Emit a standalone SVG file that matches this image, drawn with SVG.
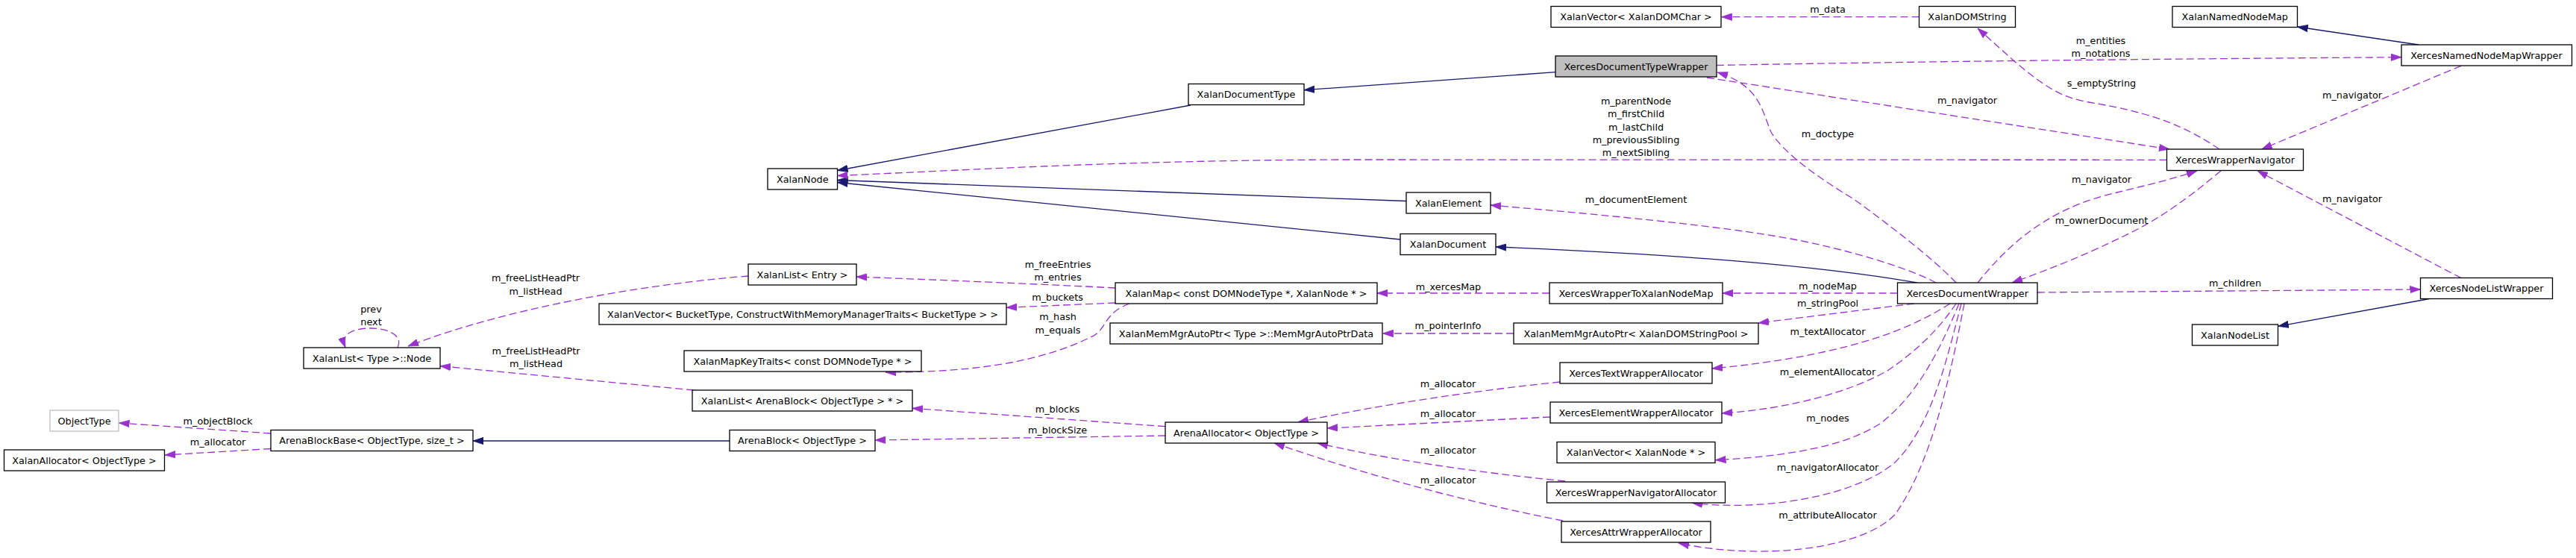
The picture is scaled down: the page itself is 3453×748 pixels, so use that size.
<svg xmlns="http://www.w3.org/2000/svg" width="3453" height="748" viewBox="0 0 3453 748">
<style>
.box{fill:#ffffff;stroke:#000000;stroke-width:1.3}
.boxg{fill:#ffffff;stroke:#bfbfbf;stroke-width:1.3}
.boxsel{fill:#bfbfbf;stroke:#000000;stroke-width:1.3}
text{font-family:"DejaVu Sans","Liberation Sans",sans-serif;font-size:12.8px;fill:#000000;text-anchor:middle}
.inh{fill:none;stroke:#191970;stroke-width:1.3}
.use{fill:none;stroke:#9a32cd;stroke-width:1.3;stroke-dasharray:10,5}
</style>
<defs>
<marker id="an" markerUnits="userSpaceOnUse" viewBox="0 0 14 10" markerWidth="14" markerHeight="10" refX="14" refY="5" orient="auto">
<path d="M0,0.3 L14,5 L0,9.7 z" fill="#191970" stroke="#191970" stroke-width="0.8"/>
</marker>
<marker id="au" markerUnits="userSpaceOnUse" viewBox="0 0 14 10" markerWidth="14" markerHeight="10" refX="14" refY="5" orient="auto">
<path d="M0,0.3 L14,5 L0,9.7 z" fill="#9a32cd" stroke="#9a32cd" stroke-width="0.8"/>
</marker>
</defs>
<rect width="3453" height="748" fill="#ffffff"/>

<g id="connectors">
<!-- inheritance -->
<path class="inh" marker-end="url(#an)" d="M1596,141 L1122.5,228.5"/>
<path class="inh" marker-end="url(#an)" d="M1885,269.5 L1122.5,241.5"/>
<path class="inh" marker-end="url(#an)" d="M1877,321 L1122.5,244.5"/>
<path class="inh" marker-end="url(#an)" d="M2085,96.7 L1748,120.7"/>
<path class="inh" marker-end="url(#an)" d="M978,591 L634,591"/>
<path class="inh" marker-end="url(#an)" d="M2570,379 Q2380,346 2005,331"/>
<path class="inh" marker-end="url(#an)" d="M3242,60 L3079.6,36"/>
<path class="inh" marker-end="url(#an)" d="M3256.5,400.5 L3053.8,437.3"/>
<!-- usage -->
<path class="use" marker-end="url(#au)" d="M363,581 L159.5,567"/>
<path class="use" marker-end="url(#au)" d="M363,601.5 L221,610"/>
<path class="use" marker-end="url(#au)" d="M533,466 C542,446 512,440 497,440 C478,440 455,445 463,466"/>
<path class="use" marker-end="url(#au)" d="M1003,370 C900,378 700,405 547,464"/>
<path class="use" marker-end="url(#au)" d="M930,523 L590,490.7"/>
<path class="use" marker-end="url(#au)" d="M1495,386 C1400,381 1250,375 1148,371"/>
<path class="use" marker-end="url(#au)" d="M1495,406 L1349,412.3"/>
<path class="use" marker-end="url(#au)" d="M1514,407 C1478,420 1485,442 1462,452 C1400,482 1320,499 1187,499"/>
<path class="use" marker-end="url(#au)" d="M2077,393 L1846,393"/>
<path class="use" marker-end="url(#au)" d="M2029,447 L1853.5,447"/>
<path class="use" marker-end="url(#au)" d="M1562,571.7 L1223,547.3"/>
<path class="use" marker-end="url(#au)" d="M1562,584 L1173,590"/>
<path class="use" marker-end="url(#au)" d="M2091,512 Q1900,532 1740,566"/>
<path class="use" marker-end="url(#au)" d="M2078,559 L1779,574"/>
<path class="use" marker-end="url(#au)" d="M2098,645 Q1900,625 1766,594"/>
<path class="use" marker-end="url(#au)" d="M2095,698 Q1900,660 1708,594"/>
<path class="use" marker-end="url(#au)" d="M2572.5,22.7 L2307.5,22.7"/>
<path class="use" marker-end="url(#au)" d="M2301,87.5 C2600,82 2900,79 3219,76.7"/>
<path class="use" marker-end="url(#au)" d="M2288,104 L2908,200"/>
<path class="use" marker-end="url(#au)" d="M2975,200 C2930,170 2890,152 2800,137 C2760,130 2740,115 2700,82 L2651,38"/>
<path class="use" marker-end="url(#au)" d="M2904.5,214.3 L1800,214 C1500,215 1300,228 1122.5,235.5"/>
<path class="use" marker-end="url(#au)" d="M2622,379 C2590,345 2530,300 2485,267 C2440,240 2390,205 2374,177 C2362,150 2360,115 2302,97"/>
<path class="use" marker-end="url(#au)" d="M2595,379 C2560,360 2480,335 2400,320 C2300,302 2150,288 1998,275"/>
<path class="use" marker-end="url(#au)" d="M2651,379 C2690,330 2740,285 2818,263 C2860,252 2900,244 2945,229"/>
<path class="use" marker-end="url(#au)" d="M2977,229 C2940,260 2900,290 2860,310 C2800,340 2750,360 2697,379"/>
<path class="use" marker-end="url(#au)" d="M3299,88.3 L3031.7,200"/>
<path class="use" marker-end="url(#au)" d="M3299,372.7 L3026,229"/>
<path class="use" marker-end="url(#au)" d="M2731,392 L3244.5,388"/>
<path class="use" marker-end="url(#au)" d="M2543.5,393 L2309,393"/>
<path class="use" marker-end="url(#au)" d="M2566,407 Q2460,420 2357,433"/>
<path class="use" marker-end="url(#au)" d="M2614,407 C2570,435 2520,455 2448,471 C2400,482 2340,490 2295,494"/>
<path class="use" marker-end="url(#au)" d="M2622,407 C2600,440 2570,470 2530,497 C2480,525 2400,548 2308,554"/>
<path class="use" marker-end="url(#au)" d="M2626,407 C2600,470 2570,530 2520,568 C2470,600 2390,612 2299.5,616.7"/>
<path class="use" marker-end="url(#au)" d="M2629,407 C2610,480 2590,570 2540,620 C2480,670 2350,685 2268,674"/>
<path class="use" marker-end="url(#au)" d="M2633,407 C2615,500 2590,620 2540,690 C2490,740 2350,750 2250,728"/>
<!-- labels -->
<text x="292" y="569">m_objectBlock</text>
<text x="292" y="596.5">m_allocator</text>
<text x="497.5" y="419">prev</text>
<text x="497.5" y="436">next</text>
<text x="718" y="377">m_freeListHeadPtr</text>
<text x="718" y="394.5">m_listHead</text>
<text x="718.5" y="475">m_freeListHeadPtr</text>
<text x="718.5" y="492">m_listHead</text>
<text x="1418" y="359">m_freeEntries</text>
<text x="1418" y="376">m_entries</text>
<text x="1417.5" y="403">m_buckets</text>
<text x="1418" y="429">m_hash</text>
<text x="1418" y="446.5">m_equals</text>
<text x="1417.5" y="552.5">m_blocks</text>
<text x="1417.5" y="581">m_blockSize</text>
<text x="2193" y="140">m_parentNode</text>
<text x="2193" y="157">m_firstChild</text>
<text x="2193" y="174.5">m_lastChild</text>
<text x="2193" y="191.5">m_previousSibling</text>
<text x="2193" y="208.5">m_nextSibling</text>
<text x="2193" y="272">m_documentElement</text>
<text x="1941.5" y="388.5">m_xercesMap</text>
<text x="1941" y="441">m_pointerInfo</text>
<text x="1941" y="519">m_allocator</text>
<text x="1941" y="559">m_allocator</text>
<text x="1941" y="608">m_allocator</text>
<text x="1941" y="648">m_allocator</text>
<text x="2450" y="17">m_data</text>
<text x="2816" y="59">m_entities</text>
<text x="2816" y="76">m_notations</text>
<text x="2817" y="116">s_emptyString</text>
<text x="2637" y="139">m_navigator</text>
<text x="2450" y="184">m_doctype</text>
<text x="2817" y="245">m_navigator</text>
<text x="2817" y="300">m_ownerDocument</text>
<text x="2450" y="388">m_nodeMap</text>
<text x="2450" y="411">m_stringPool</text>
<text x="2450" y="449">m_textAllocator</text>
<text x="2450" y="503">m_elementAllocator</text>
<text x="2450" y="565">m_nodes</text>
<text x="2450" y="631">m_navigatorAllocator</text>
<text x="2450" y="694.5">m_attributeAllocator</text>
<text x="3153" y="132">m_navigator</text>
<text x="3153" y="271">m_navigator</text>
<text x="2996" y="383.5">m_children</text>
</g>

<g id="ObjectType"><rect class="boxg" x="67" y="550" width="92" height="28"/><text x="113" y="568.5">ObjectType</text></g>
<g id="XalanAllocator_ObjectType"><rect class="box" x="5.5" y="603" width="215" height="28"/><text x="113" y="621.5">XalanAllocator&lt; ObjectType &gt;</text></g>
<g id="ArenaBlockBase"><rect class="box" x="363" y="576.5" width="271" height="28"/><text x="498.5" y="595">ArenaBlockBase&lt; ObjectType, size_t &gt;</text></g>
<g id="XalanList_Type_Node"><rect class="box" x="407" y="466" width="183" height="28"/><text x="498.5" y="484.5">XalanList&lt; Type &gt;::Node</text></g>
<g id="XalanNode"><rect class="box" x="1029" y="226" width="93.5" height="28"/><text x="1075.75" y="244.5">XalanNode</text></g>
<g id="XalanList_Entry"><rect class="box" x="1003" y="354" width="145" height="28"/><text x="1075.5" y="372.5">XalanList&lt; Entry &gt;</text></g>
<g id="XalanVector_BucketType"><rect class="box" x="803" y="407" width="546" height="28"/><text x="1076" y="425.5">XalanVector&lt; BucketType, ConstructWithMemoryManagerTraits&lt; BucketType &gt; &gt;</text></g>
<g id="XalanMapKeyTraits"><rect class="box" x="917" y="470" width="318" height="28"/><text x="1076" y="488.5">XalanMapKeyTraits&lt; const DOMNodeType * &gt;</text></g>
<g id="XalanList_ArenaBlock"><rect class="box" x="928" y="523" width="295" height="28"/><text x="1075.5" y="541.5">XalanList&lt; ArenaBlock&lt; ObjectType &gt; * &gt;</text></g>
<g id="ArenaBlock"><rect class="box" x="978" y="576.5" width="195" height="28"/><text x="1075.5" y="595">ArenaBlock&lt; ObjectType &gt;</text></g>
<g id="XalanDocumentType"><rect class="box" x="1593" y="112.5" width="155" height="28"/><text x="1670.5" y="131">XalanDocumentType</text></g>
<g id="XalanMap"><rect class="box" x="1495" y="379" width="351" height="28"/><text x="1670.5" y="397.5">XalanMap&lt; const DOMNodeType *, XalanNode * &gt;</text></g>
<g id="MemMgrAutoPtrData"><rect class="box" x="1488" y="433" width="365" height="28"/><text x="1670.5" y="451.5">XalanMemMgrAutoPtr&lt; Type &gt;::MemMgrAutoPtrData</text></g>
<g id="ArenaAllocator"><rect class="box" x="1562" y="566" width="217" height="28"/><text x="1670.5" y="584.5">ArenaAllocator&lt; ObjectType &gt;</text></g>
<g id="XalanVector_XalanDOMChar"><rect class="box" x="2079" y="8.5" width="228" height="28"/><text x="2193" y="27">XalanVector&lt; XalanDOMChar &gt;</text></g>
<g id="XercesDocumentTypeWrapper"><rect class="boxsel" x="2085" y="75" width="216" height="28"/><text x="2193" y="93.5">XercesDocumentTypeWrapper</text></g>
<g id="XalanElement"><rect class="box" x="1885" y="258" width="113" height="28"/><text x="1941.5" y="276.5">XalanElement</text></g>
<g id="XalanDocument"><rect class="box" x="1877" y="313.5" width="128" height="28"/><text x="1941" y="332">XalanDocument</text></g>
<g id="XercesWrapperToXalanNodeMap"><rect class="box" x="2077" y="379" width="232" height="28"/><text x="2193" y="397.5">XercesWrapperToXalanNodeMap</text></g>
<g id="XalanMemMgrAutoPtr_XalanDOMStringPool"><rect class="box" x="2029" y="433" width="328" height="28"/><text x="2193" y="451.5">XalanMemMgrAutoPtr&lt; XalanDOMStringPool &gt;</text></g>
<g id="XercesTextWrapperAllocator"><rect class="box" x="2091" y="486" width="204" height="28"/><text x="2193" y="504.5">XercesTextWrapperAllocator</text></g>
<g id="XercesElementWrapperAllocator"><rect class="box" x="2078" y="539" width="230" height="28"/><text x="2193" y="557.5">XercesElementWrapperAllocator</text></g>
<g id="XalanVector_XalanNode"><rect class="box" x="2087" y="592.5" width="212" height="28"/><text x="2193" y="611">XalanVector&lt; XalanNode * &gt;</text></g>
<g id="XercesWrapperNavigatorAllocator"><rect class="box" x="2073.5" y="646" width="239" height="28"/><text x="2193" y="664.5">XercesWrapperNavigatorAllocator</text></g>
<g id="XercesAttrWrapperAllocator"><rect class="box" x="2093" y="699" width="200" height="28"/><text x="2193" y="717.5">XercesAttrWrapperAllocator</text></g>
<g id="XalanDOMString"><rect class="box" x="2572.5" y="8.5" width="129" height="28"/><text x="2637" y="27">XalanDOMString</text></g>
<g id="XercesDocumentWrapper"><rect class="box" x="2543.5" y="379" width="187.5" height="28"/><text x="2637.25" y="397.5">XercesDocumentWrapper</text></g>
<g id="XalanNamedNodeMap"><rect class="box" x="2912" y="8.5" width="167.5" height="28"/><text x="2995.75" y="27">XalanNamedNodeMap</text></g>
<g id="XercesWrapperNavigator"><rect class="box" x="2904.5" y="200" width="183" height="28.5"/><text x="2996" y="218.5">XercesWrapperNavigator</text></g>
<g id="XalanNodeList"><rect class="box" x="2938.5" y="435" width="115" height="28"/><text x="2996" y="453.5">XalanNodeList</text></g>
<g id="XercesNamedNodeMapWrapper"><rect class="box" x="3219" y="60" width="228.5" height="28"/><text x="3333" y="78.5">XercesNamedNodeMapWrapper</text></g>
<g id="XercesNodeListWrapper"><rect class="box" x="3244.5" y="372.5" width="177" height="28"/><text x="3333" y="391">XercesNodeListWrapper</text></g>
</svg>
